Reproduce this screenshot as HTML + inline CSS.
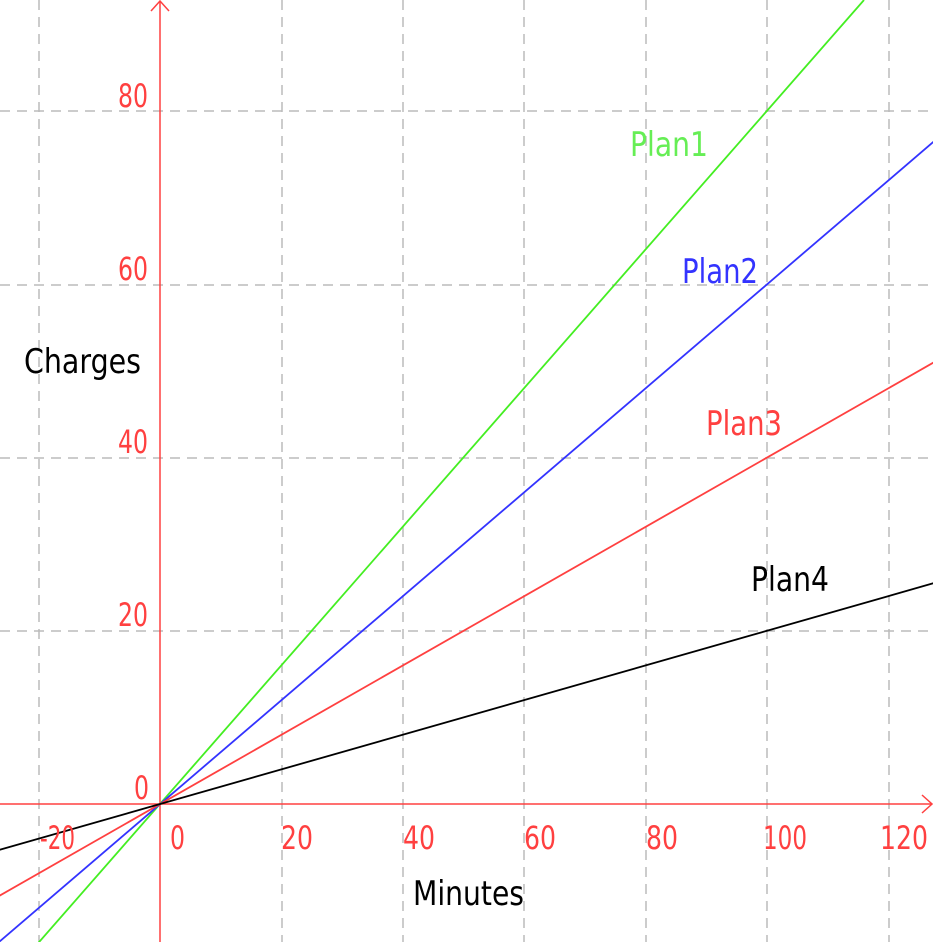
<!DOCTYPE html>
<html><head><meta charset="utf-8"><style>
html,body{margin:0;padding:0;background:#fff;}
svg{display:block;}
text{font-family:"DejaVu Sans","Liberation Sans",sans-serif;}
</style></head><body>
<svg width="933" height="942" viewBox="0 0 933 942" xmlns="http://www.w3.org/2000/svg">
<g stroke="#bbbbbb" stroke-width="1.5" stroke-dasharray="10,7" fill="none">
<line x1="39" y1="0" x2="39" y2="942"/>
<line x1="282" y1="0" x2="282" y2="942"/>
<line x1="403" y1="0" x2="403" y2="942"/>
<line x1="524" y1="0" x2="524" y2="942"/>
<line x1="646" y1="0" x2="646" y2="942"/>
<line x1="767" y1="0" x2="767" y2="942"/>
<line x1="889" y1="0" x2="889" y2="942"/>
<line x1="0" y1="111" x2="933" y2="111"/>
<line x1="0" y1="285" x2="933" y2="285"/>
<line x1="0" y1="458" x2="933" y2="458"/>
<line x1="0" y1="631" x2="933" y2="631"/>
</g>
<g stroke="#ff4040" stroke-width="1.5" fill="none">
<line x1="0" y1="804" x2="932" y2="804"/>
<polyline points="922,795 932,804 922,813"/>
<line x1="160" y1="942" x2="160" y2="1"/>
<polyline points="151,11 160,1 169,11"/>
</g>
<g stroke-width="1.8" fill="none">
<line x1="38.6" y1="942.6" x2="864" y2="0" stroke="#44ee22"/>
<line x1="-22" y1="960" x2="949" y2="128.5" stroke="#3333ff"/>
<line x1="-22" y1="908" x2="949" y2="353.7" stroke="#ff4040"/>
<line x1="-22" y1="856" x2="949" y2="578.8" stroke="#000"/>
</g>
<g fill="#ff4040" font-size="32">
<text x="118" y="107" textLength="30" lengthAdjust="spacingAndGlyphs">80</text>
<text x="118" y="280" textLength="30" lengthAdjust="spacingAndGlyphs">60</text>
<text x="118" y="453" textLength="30" lengthAdjust="spacingAndGlyphs">40</text>
<text x="118" y="626" textLength="30" lengthAdjust="spacingAndGlyphs">20</text>
<text x="134" y="799" textLength="15" lengthAdjust="spacingAndGlyphs">0</text>
<text x="40" y="849" textLength="35" lengthAdjust="spacingAndGlyphs">-20</text>
<text x="170" y="849" textLength="15" lengthAdjust="spacingAndGlyphs">0</text>
<text x="281" y="849" textLength="32" lengthAdjust="spacingAndGlyphs">20</text>
<text x="403" y="849" textLength="32" lengthAdjust="spacingAndGlyphs">40</text>
<text x="524" y="849" textLength="32" lengthAdjust="spacingAndGlyphs">60</text>
<text x="646" y="849" textLength="32" lengthAdjust="spacingAndGlyphs">80</text>
<text x="763" y="849" textLength="44" lengthAdjust="spacingAndGlyphs">100</text>
<text x="880" y="849" textLength="48" lengthAdjust="spacingAndGlyphs">120</text>
</g>
<g font-size="34">
<text x="24" y="373" textLength="117" lengthAdjust="spacingAndGlyphs" fill="#000">Charges</text>
<text x="413" y="905" textLength="111" lengthAdjust="spacingAndGlyphs" fill="#000">Minutes</text>
<text x="630" y="156" textLength="78" lengthAdjust="spacingAndGlyphs" fill="#66ee55">Plan1</text>
<text x="682" y="283" textLength="76" lengthAdjust="spacingAndGlyphs" fill="#3333ff">Plan2</text>
<text x="706" y="435" textLength="76" lengthAdjust="spacingAndGlyphs" fill="#ff4040">Plan3</text>
<text x="751" y="591" textLength="78" lengthAdjust="spacingAndGlyphs" fill="#000">Plan4</text>
</g>
</svg>
</body></html>
